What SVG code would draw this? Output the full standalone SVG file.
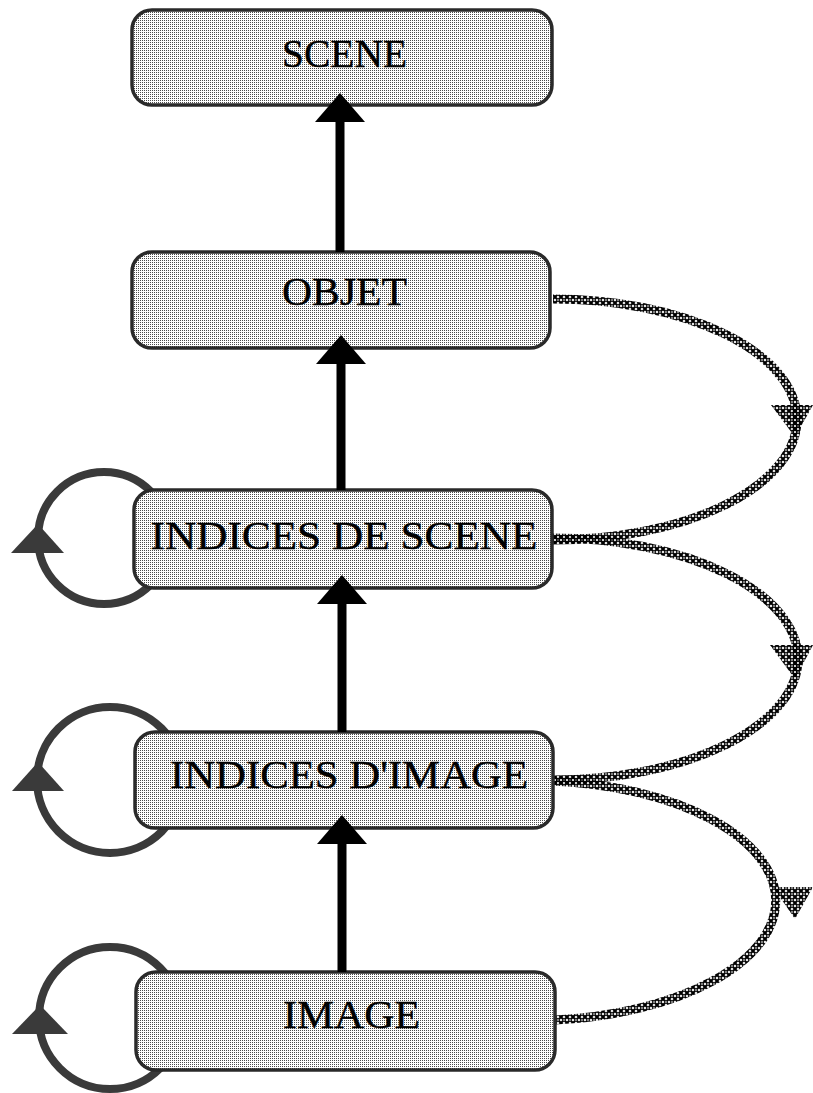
<svg xmlns="http://www.w3.org/2000/svg" width="813" height="1093" viewBox="0 0 813 1093">
  <defs>
    <!-- halftone fill for the boxes -->
    <pattern id="dots" patternUnits="userSpaceOnUse" x="0" y="0" width="2" height="2">
      <rect width="2" height="2" fill="#ffffff"/>
      <rect width="1" height="1" fill="#000000" fill-opacity="0.7"/>
    </pattern>
    <!-- cross-stitch texture for the feedback arcs -->
    <pattern id="cross" patternUnits="userSpaceOnUse" x="0" y="0" width="6" height="6">
      <path d="M0.5,0.5 L5.5,5.5 M5.5,0.5 L0.5,5.5" stroke="#000" stroke-width="2.1" fill="none"/>
    </pattern>
    <style>
      .box { fill: url(#dots); stroke: #2a2a2a; stroke-width: 3.5; }
      .label { font-family: "Liberation Serif", "Times New Roman", serif; font-size: 41px; fill: #000; stroke: #000; stroke-width: 0.4; text-anchor: middle; }
      .loop { fill: none; stroke: #3a3a3a; stroke-width: 8; }
      .loophead { fill: #3a3a3a; }
      .feedback { fill: none; stroke: url(#cross); stroke-width: 9; }
      .fbhead { fill: url(#cross); }
      .up { stroke: #000; stroke-width: 9; fill: none; }
      .uphead { fill: #000; }
    </style>
  </defs>

  <!-- self loops on the left, drawn behind the boxes -->
  <g id="loops">
    <circle class="loop" cx="104" cy="538" r="66"/>
    <polygon class="loophead" points="38,524 64,553 11,553"/>
    <circle class="loop" cx="110" cy="780" r="73"/>
    <polygon class="loophead" points="38,762 64,791 12,791"/>
    <circle class="loop" cx="110" cy="1018" r="71"/>
    <polygon class="loophead" points="40,1005 68,1034 12,1034"/>
  </g>

  <!-- top-down feedback arcs on the right -->
  <g id="feedback">
    <path class="feedback" d="M553,299 A244 120.5 0 0 1 553,540"/>
    <polygon class="fbhead" points="771,405 813,405 795,437"/>
    <path class="feedback" d="M553,538 A245 121 0 0 1 553,780"/>
    <polygon class="fbhead" points="770,645 813,645 795,679"/>
    <path class="feedback" d="M553,781 A244 120 0 0 1 555,1020"/>
    <polygon class="fbhead" points="773,887 813,887 795,919"/>
  </g>

  <!-- nodes -->
  <g id="scene">
    <rect class="box" x="132" y="10" width="420" height="95" rx="20" ry="20"/>
    <text class="label" x="344.5" y="67" textLength="125" lengthAdjust="spacingAndGlyphs">SCENE</text>
  </g>
  <g id="objet">
    <rect class="box" x="132" y="252" width="418" height="96" rx="20" ry="20"/>
    <text class="label" x="344.5" y="305" textLength="125" lengthAdjust="spacingAndGlyphs">OBJET</text>
  </g>
  <g id="indices-scene">
    <rect class="box" x="134" y="490" width="418" height="98" rx="20" ry="20"/>
    <text class="label" x="344" y="549" textLength="387" lengthAdjust="spacingAndGlyphs">INDICES DE SCENE</text>
  </g>
  <g id="indices-image">
    <rect class="box" x="135" y="732" width="418" height="96" rx="20" ry="20"/>
    <text class="label" x="349" y="788" textLength="358" lengthAdjust="spacingAndGlyphs">INDICES D'IMAGE</text>
  </g>
  <g id="image">
    <rect class="box" x="136" y="972" width="419" height="98" rx="20" ry="20"/>
    <text class="label" x="351.5" y="1028" textLength="137" lengthAdjust="spacingAndGlyphs">IMAGE</text>
  </g>

  <!-- upward black arrows between levels -->
  <g id="connectors">
    <line class="up" x1="340" y1="252" x2="340" y2="120"/>
    <polygon class="uphead" points="340,93 365,122 315,122"/>
    <line class="up" x1="341" y1="490" x2="341" y2="362"/>
    <polygon class="uphead" points="341,335 366,364 316,364"/>
    <line class="up" x1="342" y1="732" x2="342" y2="602"/>
    <polygon class="uphead" points="342,575 367,604 317,604"/>
    <line class="up" x1="342" y1="972" x2="342" y2="842"/>
    <polygon class="uphead" points="342,815 367,844 317,844"/>
  </g>
</svg>
